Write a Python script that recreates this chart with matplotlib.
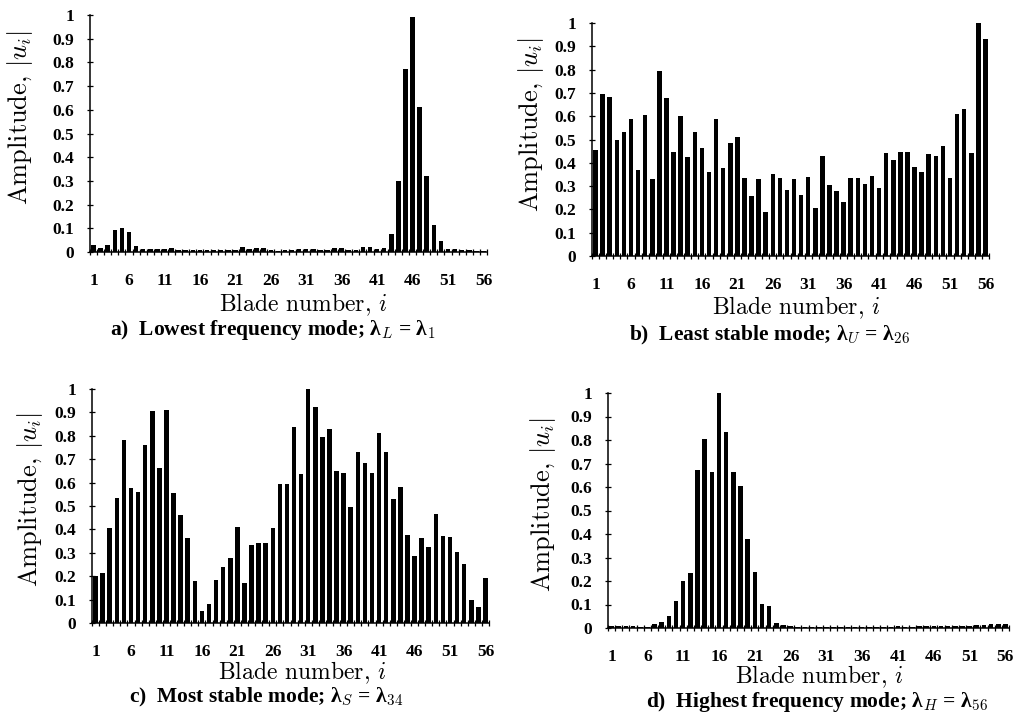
import matplotlib
matplotlib.use("Agg")
import matplotlib.pyplot as plt

W, H = 1017, 725

# blade numbers and axis labels
blades = list(range(1, 57))
tick_blades = [1, 6, 11, 16, 21, 26, 31, 36, 41, 46, 51, 56]
y_ticks = [0, 0.1, 0.2, 0.3, 0.4, 0.5, 0.6, 0.7, 0.8, 0.9, 1.0]
y_tick_labels = ["0", "0.1", "0.2", "0.3", "0.4", "0.5", "0.6", "0.7", "0.8", "0.9", "1"]

# a) lowest frequency mode
lowest_amp = [0.031, 0.017, 0.028, 0.092, 0.100, 0.085, 0.025, 0.014, 0.011, 0.013,
              0.014, 0.017, 0.010, 0.008, 0.008, 0.007, 0.007, 0.007, 0.007, 0.008,
              0.010, 0.021, 0.013, 0.018, 0.018, 0.010, 0.006, 0.007, 0.010, 0.014,
              0.013, 0.014, 0.007, 0.008, 0.016, 0.017, 0.010, 0.008, 0.020, 0.023,
              0.011, 0.016, 0.075, 0.300, 0.774, 0.990, 0.610, 0.320, 0.113, 0.045,
              0.011, 0.013, 0.010, 0.007, 0.006, 0.006]

# b) least stable mode
least_stable_amp = [0.454, 0.694, 0.683, 0.500, 0.533, 0.587, 0.369, 0.604, 0.329, 0.793,
                    0.680, 0.447, 0.600, 0.426, 0.533, 0.464, 0.361, 0.587, 0.378, 0.486,
                    0.509, 0.336, 0.257, 0.331, 0.190, 0.351, 0.336, 0.283, 0.329, 0.261,
                    0.339, 0.207, 0.429, 0.303, 0.279, 0.233, 0.333, 0.333, 0.309, 0.344,
                    0.293, 0.444, 0.411, 0.446, 0.446, 0.380, 0.359, 0.436, 0.430, 0.474,
                    0.333, 0.611, 0.629, 0.440, 1.000, 0.930]

# c) most stable mode
most_stable_amp = [0.199, 0.213, 0.408, 0.536, 0.782, 0.576, 0.559, 0.761, 0.905, 0.664,
                   0.909, 0.555, 0.461, 0.363, 0.179, 0.050, 0.083, 0.182, 0.238, 0.276,
                   0.410, 0.171, 0.334, 0.344, 0.341, 0.404, 0.595, 0.595, 0.839, 0.636,
                   1.000, 0.922, 0.794, 0.828, 0.651, 0.640, 0.495, 0.730, 0.683, 0.640,
                   0.814, 0.730, 0.529, 0.580, 0.374, 0.287, 0.363, 0.323, 0.465, 0.373,
                   0.367, 0.304, 0.252, 0.097, 0.068, 0.192]

# d) highest frequency mode
highest_amp = [0.007, 0.010, 0.010, 0.007, 0.004, 0.004, 0.017, 0.025, 0.052, 0.117,
               0.201, 0.235, 0.673, 0.803, 0.665, 1.000, 0.834, 0.665, 0.606, 0.380,
               0.239, 0.101, 0.094, 0.020, 0.012, 0.008, 0.006, 0.006, 0.005, 0.005,
               0.005, 0.005, 0.006, 0.005, 0.005, 0.006, 0.005, 0.006, 0.006, 0.006,
               0.007, 0.006, 0.006, 0.007, 0.007, 0.007, 0.007, 0.008, 0.008, 0.008,
               0.009, 0.012, 0.014, 0.015, 0.015, 0.016]

captions = [r"a)  Lowest frequency mode; λ$_L$ = λ$_1$",
            r"b)  Least stable mode; λ$_U$ = λ$_{26}$",
            r"c)  Most stable mode; λ$_S$ = λ$_{34}$",
            r"d)  Highest frequency mode; λ$_H$ = λ$_{56}$"]

plt.rcParams['mathtext.fontset'] = 'cm'
plt.rcParams['axes.unicode_minus'] = False

serif = ['Liberation Serif', 'DejaVu Serif']
cm = ['cmr10', 'DejaVu Serif']


def fx(x):
    return x / W


def fy(y):
    return 1 - y / H


def panel(fig, box, values, caption, ylab_xy, xlab_xy, cap_xy):
    x0, y0, x1, y1 = box
    ax = fig.add_axes([fx(x0), fy(y1), fx(x1 - x0), (y1 - y0) / H])
    ax.bar(blades, values, width=0.64, color='black', linewidth=0)
    ax.set_xlim(0.5, 56.5)
    ax.set_ylim(0, 1)
    for s in ['top', 'right']:
        ax.spines[s].set_visible(False)
    ax.spines['left'].set_linewidth(1.1)
    ax.spines['bottom'].set_linewidth(1.1)

    ax.set_xticks(tick_blades)
    ax.set_xticklabels([str(t) for t in tick_blades], fontfamily=serif,
                       fontweight='bold', fontsize=12.5)
    ax.set_xticks([b + 0.5 for b in range(0, 57)], minor=True)
    ax.tick_params(axis='x', which='major', length=0, pad=15)
    ax.tick_params(axis='x', which='minor', direction='inout', length=5, width=0.9)

    ax.set_yticks(y_ticks)
    ax.set_yticklabels(y_tick_labels, fontfamily=serif, fontweight='bold', fontsize=12.5)
    ax.tick_params(axis='y', direction='inout', length=5, width=0.9, pad=9)

    fig.text(fx(ylab_xy[0]), fy(ylab_xy[1]), r"Amplitude, $|u_i|$", rotation=90,
             ha='center', va='center', fontfamily=cm, fontsize=19)
    fig.text(fx(xlab_xy[0]), fy(xlab_xy[1]), r"Blade number, $i$",
             ha='center', va='center', fontfamily=cm, fontsize=17)
    fig.text(fx(cap_xy[0]), fy(cap_xy[1]), caption,
             ha='center', va='center', fontfamily=serif, fontweight='bold', fontsize=15.5)
    return ax


fig = plt.figure(figsize=(W / 100, H / 100), dpi=100)

panel(fig, (90, 15, 487, 252), lowest_amp, captions[0], (20, 118), (303, 305), (273, 330))
panel(fig, (592, 23, 989, 256), least_stable_amp, captions[1], (531, 125), (796, 308), (770, 335))
panel(fig, (92, 389, 489, 623), most_stable_amp, captions[2], (30, 500), (302, 673), (266, 697))
panel(fig, (608, 393, 1009, 628), highest_amp, captions[3], (543, 505), (819, 677), (817, 702))

fig.savefig("out.png", dpi=100)
